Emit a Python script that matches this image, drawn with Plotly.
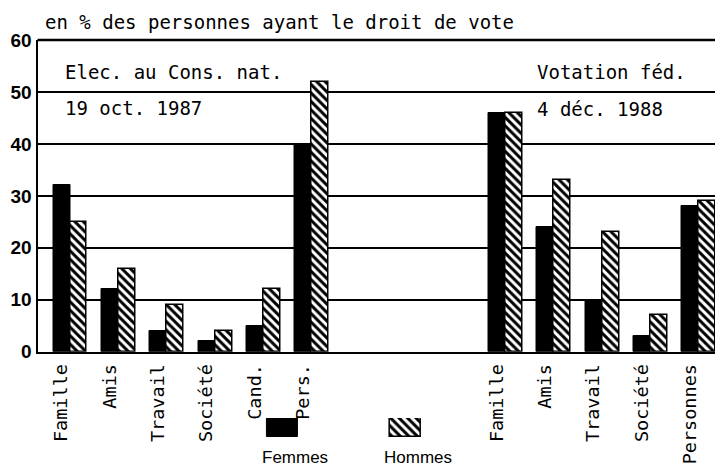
import plotly.graph_objects as go

# ---- data ----
cats_1987 = ["Famille", "Amis", "Travail", "Société", "Cand.", "Pers."]
femmes_1987 = [32, 12, 4, 2, 5, 40]
hommes_1987 = [25, 16, 9, 4, 12, 52]

cats_1988 = ["Famille", "Amis", "Travail", "Société", "Personnes"]
femmes_1988 = [46, 24, 10, 3, 28]
hommes_1988 = [46, 33, 23, 7, 29]

series_names = ["Femmes", "Hommes"]
y_ticks = [0, 10, 20, 30, 40, 50, 60]

# slot indices: first group 0..5, second group after a gap of 3 empty slots
pos_1987 = list(range(len(cats_1987)))
pos_1988 = [len(cats_1987) + 3 + i for i in range(len(cats_1988))]

positions = pos_1987 + pos_1988
labels = cats_1987 + cats_1988
femmes = femmes_1987 + femmes_1988
hommes = hommes_1987 + hommes_1988

MONO = "DejaVu Sans Mono"
BW = 0.35

hatch = dict(shape="\\", fgcolor="black", bgcolor="white", size=6, solidity=0.5)

fig = go.Figure()
fig.add_trace(go.Bar(
    x=positions, y=femmes, name=series_names[0], offset=-BW, width=BW,
    marker=dict(color="black", line=dict(color="black", width=1)),
    showlegend=False, hoverinfo="x+y"))
fig.add_trace(go.Bar(
    x=positions, y=hommes, name=series_names[1], offset=0, width=BW,
    marker=dict(color="white", pattern=hatch, line=dict(color="black", width=1.5)),
    showlegend=False, hoverinfo="x+y"))

# legend keys on a small hidden axis
fig.add_trace(go.Bar(
    x=[0], y=[1], width=0.25, xaxis="x2", yaxis="y2",
    marker=dict(color="black", line=dict(color="black", width=1)),
    showlegend=False, hoverinfo="skip"))
fig.add_trace(go.Bar(
    x=[1], y=[1], width=0.25, xaxis="x2", yaxis="y2",
    marker=dict(color="white", pattern=hatch, line=dict(color="black", width=1.5)),
    showlegend=False, hoverinfo="skip"))

# the page body has an 8px margin, so the figure is drawn 8px smaller
fig.update_layout(
    width=715, height=458,
    template="none",
    margin=dict(l=0, r=0, t=0, b=0, autoexpand=False),
    paper_bgcolor="white", plot_bgcolor="white",
    bargap=0,
    xaxis=dict(
        domain=[0.04126, 1.0], range=[-0.672, 13.5], automargin=False,
        tickmode="array",
        tickvals=[p - 0.18 for p in positions], ticktext=labels,
        tickangle=-90, tickfont=dict(family=MONO, size=18.5, color="black"),
        ticks="", showgrid=False, zeroline=False,
        showline=True, linecolor="black", linewidth=2,
        ticklabelstandoff=3, fixedrange=True,
    ),
    yaxis=dict(
        domain=[0.2496, 0.9301], range=[0, 60], automargin=False,
        tickmode="array", tickvals=y_ticks,
        tickfont=dict(family="Liberation Sans", size=19, color="black", weight="bold"),
        ticks="", showgrid=True, gridcolor="black", gridwidth=1.5,
        zeroline=False, showline=True, linecolor="black", linewidth=2,
        fixedrange=True,
    ),
    xaxis2=dict(domain=[0.2978, 0.6424], range=[-0.5, 1.5], anchor="y2",
                visible=False, fixedrange=True, automargin=False),
    yaxis2=dict(domain=[0.0633, 0.1048], range=[0, 1], anchor="x2",
                visible=False, fixedrange=True, automargin=False),
    shapes=[dict(type="line", xref="x domain", yref="y domain",
                 x0=0, x1=1, y0=1, y1=1, line=dict(color="black", width=2.5))],
)

ann_font = dict(family=MONO, size=19, color="black")
annotations = [
    dict(text="en % des personnes ayant le droit de vote", x=0.04895, y=0.9694),
    dict(text="Elec. au Cons. nat.", x=0.0769, y=0.8592),
    dict(text="19 oct. 1987", x=0.0769, y=0.7817),
    dict(text="Votation féd.", x=0.7371, y=0.8603),
    dict(text="4 déc. 1988", x=0.7371, y=0.7795),
]
for a in annotations:
    fig.add_annotation(xref="paper", yref="paper", xanchor="left", yanchor="middle",
                       showarrow=False, font=ann_font, **a)

for i, nm in enumerate(series_names):
    fig.add_annotation(text=nm, xref="x2", yref="paper", x=i, xshift=12,
                       y=0.01965, xanchor="center", yanchor="middle", showarrow=False,
                       font=dict(family="Liberation Sans", size=17, color="black"))

fig.write_html("out.html")
